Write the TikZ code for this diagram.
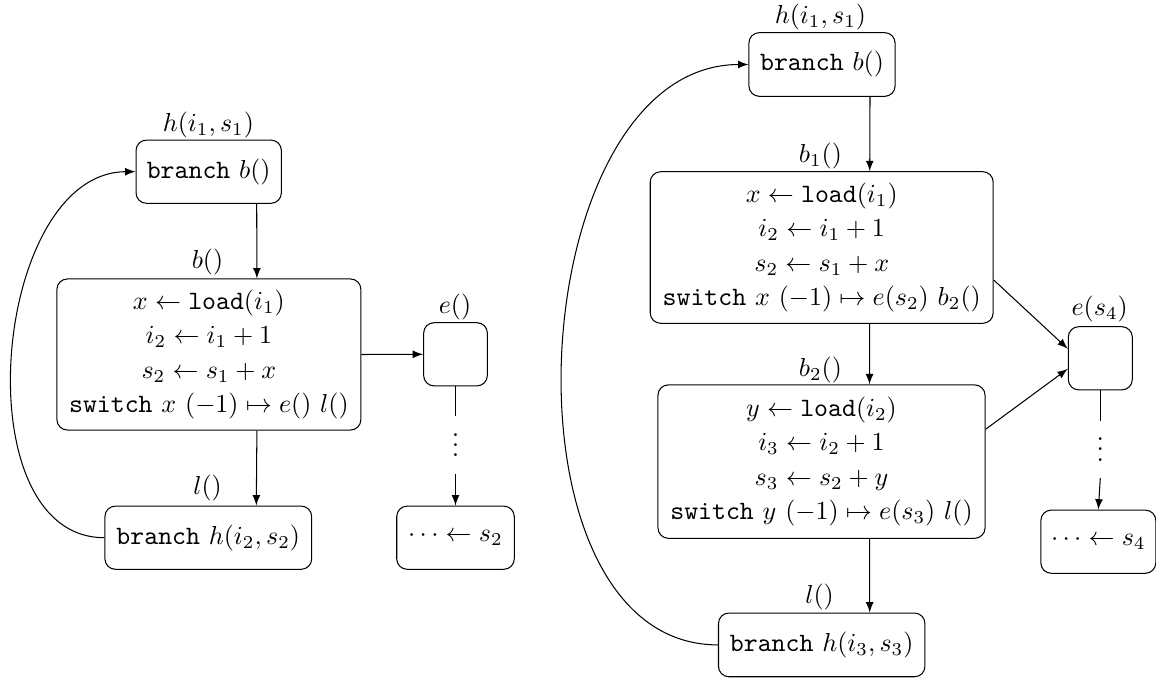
\documentclass[tikz,border=0pt]{standalone}
\usetikzlibrary{calc}
\begin{document}
\begin{tikzpicture}[x=0.3846pt, y=-0.3846pt,
  box/.style={draw, rounded corners=4pt, inner sep=2pt, align=center,
              font=\fontsize{10.2}{13.25}\selectfont},
  lab/.style={inner sep=0pt, font=\fontsize{10.2}{12.2}\selectfont},
  vd/.style={inner sep=0pt, minimum height=21.7pt, font=\fontsize{10.2}{12.2}\selectfont},
  arr/.style={-latex}]
\useasboundingbox (0,0) rectangle (1156,678);

% ---------------- left diagram ----------------
\node[box, minimum width=55.9pt, minimum height=24.3pt] (lt) at (208.7,171.7) {\texttt{branch} $b()$};
\node[box, minimum width=116.9pt, minimum height=58.1pt] (lb) at (208.9,354.5)
  {$x \leftarrow \texttt{load}(i_1)$\\ $i_2 \leftarrow i_1 + 1$\\ $s_2 \leftarrow s_1 + x$\\ \texttt{switch} $x\ (-1) \mapsto e()\ l()$};
\node[box, minimum width=24.5pt, minimum height=24.3pt] (le) at (455.5,354.3) {};
\node[box, minimum width=79.5pt, minimum height=24.3pt] (ll) at (208.3,537.7) {\texttt{branch} $h(i_2, s_2)$};
\node[vd] (lv) at (455.5,445) {\raisebox{0pt}[9.1pt][0pt]{$\vdots$}};
\node[box, minimum width=45.2pt, minimum height=24.3pt] (lx) at (455.5,537.7) {$\cdots \leftarrow s_2$};

\node[lab] (lth) at (208.4,125) {$h(i_1, s_1)$};
\node[lab] (lbh) at (207.5,261.7) {$b()$};
\node[lab] (llh) at (207.5,488.3) {$l()$};
\node[lab] (leh) at (455,306.7) {$e()$};

\draw[arr] ($(lt.south)+(48,0)$) -- ($(lb.north)+(48,0)$);
\draw[arr] ($(lb.south)+(48,0)$) -- ($(ll.north)+(48,0)$);
\draw[arr] (lb.east) -- (le.west);
\draw (le.south) -- (lv.north);
\draw[arr] (lv.south) -- (lx.north);
\draw[arr] (ll.west) to[out=180,in=180] (lt.west);

% ---------------- right diagram ----------------
\node[box, minimum width=56.2pt, minimum height=24.5pt] (rt) at (822,64.5) {\texttt{branch} $b()$};
\node[box, minimum width=131.9pt, minimum height=58.3pt] (r1) at (821.7,247.5)
  {$x \leftarrow \texttt{load}(i_1)$\\ $i_2 \leftarrow i_1 + 1$\\ $s_2 \leftarrow s_1 + x$\\ \texttt{switch} $x\ (-1) \mapsto e(s_2)\ b_2()$};
\node[box, minimum width=125.8pt, minimum height=59pt] (r2) at (821.5,461.6)
  {$y \leftarrow \texttt{load}(i_2)$\\ $i_3 \leftarrow i_2 + 1$\\ $s_3 \leftarrow s_2 + y$\\ \texttt{switch} $y\ (-1) \mapsto e(s_3)\ l()$};
\node[box, minimum width=79.4pt, minimum height=24.5pt] (rl) at (821.7,644.9) {\texttt{branch} $h(i_3, s_3)$};
\node[box, minimum width=24.6pt, minimum height=24.3pt] (re) at (1100.3,358.3) {};
\node[vd] (rv) at (1100.3,449.5) {\raisebox{0pt}[9.1pt][0pt]{$\vdots$}};
\node[box, minimum width=44.2pt, minimum height=24.3pt] (rx) at (1098.3,541.7) {$\cdots \leftarrow s_4$};

\node[lab] (rth) at (820.4,17) {$h(i_1, s_1)$};
\node[lab] (r1h) at (820.4,155.7) {$b_1()$};
\node[lab] (r2h) at (820.4,369.7) {$b_2()$};
\node[lab] (rlh) at (819.6,596.7) {$l()$};
\node[lab] (reh) at (1099.7,309) {$e(s_4)$};

\draw[arr] ($(rt.south)+(48,0)$) -- ($(r1.north)+(48,0)$);
\draw[arr] ($(r1.south)+(48,0)$) -- ($(r2.north)+(48,0)$);
\draw[arr] ($(r2.south)+(48,0)$) -- ($(rl.north)+(48,0)$);
\draw[arr] ($(r1.east)+(0,32.5)$) -- ($(re.west)+(0,-9.5)$);
\draw[arr] ($(r2.east)+(0,-32.3)$) -- ($(re.west)+(0,10.5)$);
\draw (re.south) -- (rv.north);
\draw[arr] (rv.south) -- (rx.north);
\draw[arr] (rl.west) to[out=180,in=180] (rt.west);
\end{tikzpicture}
\end{document}
